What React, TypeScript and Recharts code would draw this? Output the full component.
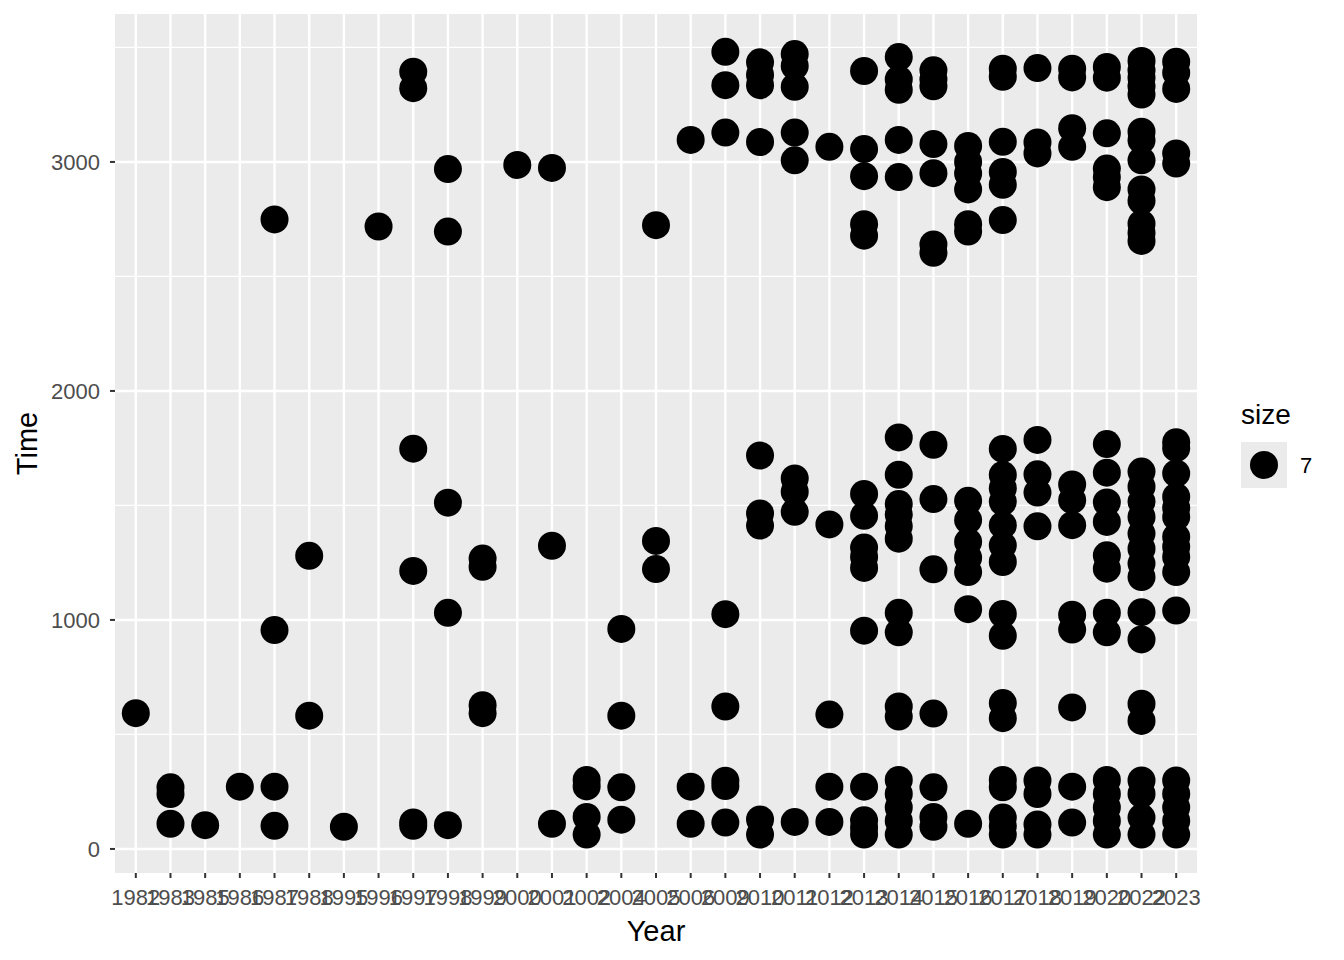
import React from 'react';
import { ScatterChart, Scatter, XAxis, YAxis, CartesianGrid } from 'recharts';

// x categories (discrete years as they appear on the axis)
const years = [
  '1982', '1983', '1985', '1986', '1987', '1988', '1995', '1996', '1997', '1998',
  '1999', '2000', '2001', '2002', '2004', '2005', '2006', '2009', '2010', '2011',
  '2012', '2013', '2014', '2015', '2016', '2017', '2018', '2019', '2020', '2022', '2023',
];

// Time values per year, same order as `years`
const times: number[][] = [
  [593],
  [269, 240, 110],
  [104],
  [272],
  [2749, 956, 272, 101],
  [1280, 582],
  [97],
  [2718],
  [3394, 3322, 1748, 1214, 116, 101],
  [2969, 2696, 1512, 1031, 104],
  [1268, 1232, 628, 593],
  [2987],
  [2974, 1324, 110],
  [301, 273, 140, 63],
  [961, 582, 269, 128],
  [2724, 1345, 1222],
  [3096, 272, 110],
  [3481, 3335, 3128, 1025, 622, 298, 275, 115],
  [3435, 3380, 3335, 3087, 1718, 1465, 1412, 129, 63],
  [3471, 3419, 3328, 3128, 3007, 1618, 1560, 1472, 118],
  [3066, 1417, 587, 272, 118],
  [3397, 3056, 2938, 2728, 2678, 1550, 1455, 1316, 1275, 1227, 953, 272, 125, 93, 63],
  [3458, 3360, 3315, 3096, 2934, 1797, 1634, 1506, 1460, 1410, 1355, 1031, 946, 622, 578, 301, 240, 181, 122, 63],
  [3400, 3360, 3330, 3078, 2951, 2640, 2603, 1765, 1528, 1221, 591, 269, 140, 97],
  [3070, 3000, 2950, 2880, 2728, 2696, 1520, 1436, 1341, 1272, 1209, 1047, 110],
  [3407, 3372, 3088, 2956, 2900, 2746, 1747, 1633, 1575, 1516, 1414, 1326, 1253, 1026, 931, 637, 571, 301, 269, 137, 100, 63],
  [3410, 3085, 3037, 1786, 1636, 1556, 1409, 299, 240, 107, 63],
  [3407, 3369, 3147, 3066, 1592, 1523, 1414, 1023, 958, 618, 272, 115],
  [3415, 3368, 3125, 2971, 2934, 2890, 1768, 1643, 1513, 1428, 1282, 1224, 1031, 946, 301, 240, 181, 122, 63],
  [3441, 3400, 3368, 3330, 3294, 3132, 3095, 3007, 2880, 2830, 2730, 2690, 2655, 1648, 1582, 1516, 1450, 1377, 1311, 1246, 1187, 1034, 915, 634, 559, 299, 240, 137, 63],
  [3438, 3390, 3319, 3037, 2993, 1776, 1750, 1640, 1538, 1490, 1450, 1363, 1320, 1275, 1209, 1041, 299, 240, 181, 122, 63],
];

const yTicks = [0, 1000, 2000, 3000];
const yMinorTicks = [500, 1500, 2500, 3500];
const legendTitle = 'size';
const legendLabel = '7';

const FONT = '"Liberation Sans", Arial, sans-serif';

const points = years.flatMap((yr, i) => times[i].map((t) => ({ idx: i, year: yr, time: t })));
const xTicks = years.map((_, i) => i);

const Dot = (props: any) => {
  if (props.cx == null || props.cy == null) return null;
  return <circle cx={props.cx} cy={props.cy} r={14} fill="#000000" />;
};

export default function App() {
  return (
    <div style={{ position: 'absolute', left: 0, top: 0, width: 1344, height: 960, background: '#fff', fontFamily: FONT }}>
      <ScatterChart width={1344} height={960} margin={{ top: 14, right: 147, bottom: 0, left: 0 }}>
        <CartesianGrid
          fill="#EBEBEB"
          stroke="#FFFFFF"
          strokeWidth={1.2}
          vertical={false}
          horizontalValues={yMinorTicks}
        />
        <CartesianGrid
          stroke="#FFFFFF"
          strokeWidth={2.4}
          horizontalValues={yTicks}
          verticalValues={xTicks}
        />
        <XAxis
          type="number"
          dataKey="idx"
          domain={[-0.6, years.length - 0.4]}
          ticks={xTicks}
          interval={0}
          allowDataOverflow
          tickFormatter={(i: number) => years[i]}
          tick={{ fill: '#4D4D4D', fontSize: 22, fontFamily: FONT }}
          tickLine={{ stroke: '#333333', strokeWidth: 2 }}
          axisLine={false}
          tickSize={5}
          tickMargin={11}
          height={87}
          label={{
            content: (p: any) => (
              <text
                x={p.viewBox.x + p.viewBox.width / 2}
                y={941}
                textAnchor="middle"
                fontSize={29}
                fontFamily={FONT}
                fill="#000"
              >
                Year
              </text>
            ),
          }}
        />
        <YAxis
          type="number"
          dataKey="time"
          domain={[-105, 3646]}
          ticks={yTicks}
          allowDataOverflow
          tick={{ fill: '#4D4D4D', fontSize: 22, fontFamily: FONT }}
          tickLine={{ stroke: '#333333', strokeWidth: 2 }}
          axisLine={false}
          tickSize={5}
          tickMargin={10}
          width={115}
          label={{
            content: (p: any) => {
              const cx = 27;
              const cy = p.viewBox.y + p.viewBox.height / 2;
              return (
                <text
                  x={cx}
                  y={cy}
                  transform={`rotate(-90 ${cx} ${cy})`}
                  textAnchor="middle"
                  dominantBaseline="central"
                  fontSize={29}
                  fontFamily={FONT}
                  fill="#000"
                >
                  Time
                </text>
              );
            },
          }}
        />
        <Scatter data={points} shape={<Dot />} isAnimationActive={false} />
      </ScatterChart>

      {/* legend */}
      <div style={{ position: 'absolute', left: 1241, top: 399, fontSize: 28, color: '#000', lineHeight: '32px' }}>
        {legendTitle}
      </div>
      <div style={{ position: 'absolute', left: 1241, top: 442, width: 46, height: 46, background: '#EBEBEB' }}>
        <div style={{ position: 'absolute', left: 9, top: 9, width: 28, height: 28, borderRadius: 14, background: '#000' }} />
      </div>
      <div style={{ position: 'absolute', left: 1300, top: 453, fontSize: 22, color: '#000', lineHeight: '26px' }}>
        {legendLabel}
      </div>
    </div>
  );
}
